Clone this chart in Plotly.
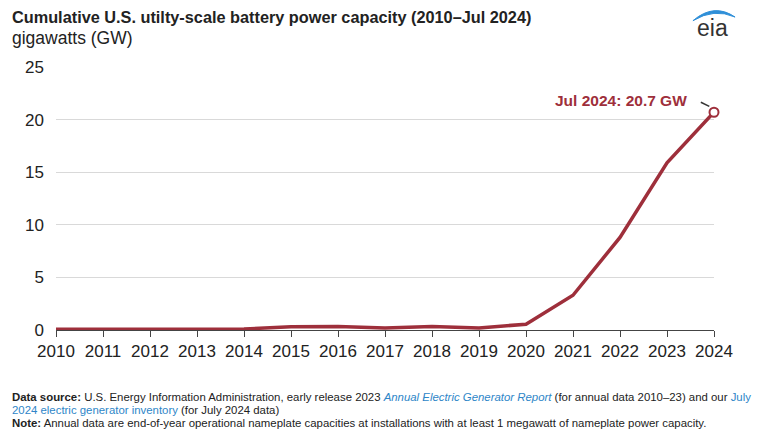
import plotly.graph_objects as go

years = list(range(2010, 2025))
year_labels = [str(y) for y in years]
capacity_gw = [0.06, 0.07, 0.13, 0.10, 0.10, 0.30, 0.33, 0.20, 0.33, 0.20, 0.55, 3.3, 8.8, 15.9, 20.7]
y_ticks = [0, 5, 10, 15, 20, 25]

red = "#9e2f3b"
fig = go.Figure()
fig.add_trace(go.Scatter(
    x=years, y=capacity_gw, mode="lines",
    line=dict(color=red, width=3.5), hoverinfo="skip", cliponaxis=False))
fig.add_trace(go.Scatter(
    x=[years[-1]], y=[capacity_gw[-1]], mode="markers",
    marker=dict(size=9, color="white", line=dict(color=red, width=2)),
    cliponaxis=False, hoverinfo="skip"))

fig.add_annotation(x=years[-1], y=capacity_gw[-1], xref="x", yref="y",
                   text="<b>Jul 2024: 20.7 GW</b>", showarrow=False,
                   xanchor="right", yanchor="middle", xshift=-25, yshift=12,
                   font=dict(size=15.5, color=red, family="Liberation Sans, Arial"))
fig.add_shape(type="line", xref="x", yref="y", x0=2023.72, x1=2023.9,
              y0=capacity_gw[-1] + 0.95, y1=capacity_gw[-1] + 0.55,
              line=dict(color="#333333", width=1.5))

fig.update_layout(
    width=761, height=443,
    margin=dict(l=48, r=55, t=59, b=121, autoexpand=False),
    paper_bgcolor="white", plot_bgcolor="white",
    showlegend=False,
    font=dict(family="Liberation Sans, Arial", color="#222222"),
    xaxis=dict(range=[2010, 2024], tickvals=years, ticktext=year_labels,
               showgrid=False, zeroline=False, showline=False, automargin=False,
               ticks="outside", ticklen=6, tickcolor="#444444", tickwidth=1.2,
               tickfont=dict(size=17, color="#222222")),
    yaxis=dict(range=[0, 25], tickvals=y_ticks, showgrid=True, automargin=False,
               gridcolor="#d9d9d9", gridwidth=1, zeroline=True,
               zerolinecolor="#444444", zerolinewidth=1.2,
               ticks="", ticklabelstandoff=11, tickfont=dict(size=17, color="#222222")),
)

LEFT = -0.0699
fig.add_annotation(xref="paper", yref="paper", x=LEFT, y=1.0, yshift=50,
                   xanchor="left", yanchor="middle", showarrow=False,
                   text="<b>Cumulative U.S. utilty-scale battery power capacity (2010–Jul 2024)</b>",
                   font=dict(size=16.3, color="#222222"))
fig.add_annotation(xref="paper", yref="paper", x=LEFT, y=1.0, yshift=29,
                   xanchor="left", yanchor="middle", showarrow=False,
                   text="gigawatts (GW)", font=dict(size=17.5, color="#222222"))

# eia logo
fig.add_annotation(xref="paper", yref="paper", x=0.997, y=1.0, yshift=39,
                   xanchor="center", yanchor="middle", showarrow=False,
                   text="eia", font=dict(size=23, color="#333333"))
fig.add_shape(type="path", xref="paper", yref="paper",
              path="M 0.968 1.176 Q 1.0 1.245 1.032 1.19 Q 1.0 1.225 0.968 1.176 Z",
              fillcolor="#2f8fd8", line=dict(color="#2f8fd8", width=1))

blue = "#2e86c8"
foot = [
    ("<b>Data source:</b> U.S. Energy Information Administration, early release 2023 "
     f"<i><span style='color:{blue}'>Annual Electric Generator Report</span></i> "
     f"(for annual data 2010–23) and our <span style='color:{blue}'>July</span>", -67),
    (f"<span style='color:{blue}'>2024 electric generator inventory</span> (for July 2024 data)", -80),
    ("<b>Note:</b> Annual data are end-of-year operational nameplate capacities at installations "
     "with at least 1 megawatt of nameplate power capacity.", -93),
]
for txt, ys in foot:
    fig.add_annotation(xref="paper", yref="paper", x=LEFT, y=0, yshift=ys,
                       xanchor="left", yanchor="middle", showarrow=False,
                       text=txt, font=dict(size=11.4, color="#222222"))

fig.write_html("out.html")
